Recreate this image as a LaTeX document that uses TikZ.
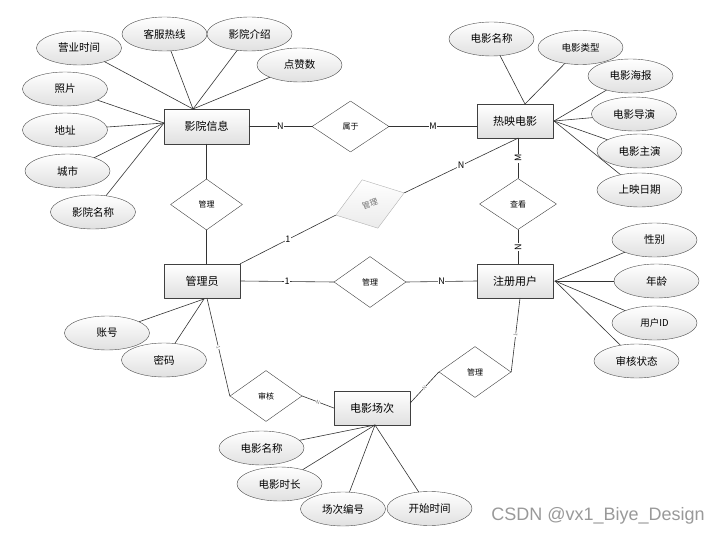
\documentclass[tikz,border=0pt]{standalone}
\usepackage{fontspec}
\setmainfont{Noto Sans CJK SC}
\setsansfont{Liberation Sans}
\usetikzlibrary{shapes.geometric}

\begin{document}
\begin{tikzpicture}[x=1pt, y=-1pt, line join=round, line cap=round,
  ent/.style={draw=black!75, top color=white, bottom color=black!12, minimum width=76pt, minimum height=34pt, inner sep=0pt, font=\fontsize{11}{13}\selectfont},
  attr/.style={ellipse, draw=black!70, top color=white, bottom color=black!12, minimum width=85pt, minimum height=34pt, inner sep=0pt, font=\fontsize{10.5}{12}\selectfont},
  rel/.style={diamond, draw=black!75, fill=white, minimum width=72pt, minimum height=51pt, inner sep=0pt, font=\fontsize{8}{9}\selectfont},
  lnk/.style={draw=black!80, line width=0.6pt},
  card/.style={fill=white, inner sep=0.6pt, font=\fontsize{9}{10}\selectfont},
  smallcard/.style={fill=white, inner sep=0.3pt, sloped, text=black!55, font=\fontsize{5}{5}\selectfont}]
  \useasboundingbox (0,0) rectangle (721,535);

  % entities
  \node[ent, minimum width=85pt, minimum height=35pt] (yy) at (206.5,126.5) {影院信息};
  \node[ent] (rm) at (515,121) {热映电影};
  \node[ent] (gly) at (202,281) {管理员};
  \node[ent] (zc) at (515,281) {注册用户};
  \node[ent] (cc) at (372,408) {电影场次};

  % relations
  \node[rel, minimum width=77pt] (sy) at (350.5,126.5) {属于};
  \node[rel] (gl1) at (206.5,204.5) {管理};
  \node[rel, minimum width=77pt] (ck) at (518,204) {查看};
  \node[rel, rotate=18, draw=black!30, top color=white, bottom color=black!8, text=black!55] (gl2) at (370,204) {管理};
  \node[rel] (gl3) at (370,282) {管理};
  \node[rel] (sh) at (266,396) {审核};
  \node[rel] (gl4) at (475,372) {管理};

  % attributes of 影院信息
  \node[attr] (yyTime) at (79,48) {营业时间};
  \node[attr] (yyHot) at (164.5,34) {客服热线};
  \node[attr] (yyIntro) at (249.5,34) {影院介绍};
  \node[attr] (yyLike) at (299.5,65) {点赞数};
  \node[attr] (yyPhoto) at (65,89) {照片};
  \node[attr] (yyAddr) at (65,130) {地址};
  \node[attr] (yyCity) at (67.5,171) {城市};
  \node[attr] (yyName) at (93,212) {影院名称};
  \coordinate (yyT) at (193,109);
  \coordinate (yyL) at (164,123);
  \foreach \a in {yyTime,yyHot,yyIntro,yyLike} \draw[lnk] (\a) -- (yyT);
  \foreach \a in {yyPhoto,yyAddr,yyCity,yyName} \draw[lnk] (\a) -- (yyL);

  % attributes of 热映电影
  \node[attr] (rmName) at (491.5,39) {电影名称};
  \node[attr, font=\fontsize{9.5}{11}\selectfont] (rmType) at (580.5,47.5) {电影类型};
  \node[attr] (rmPoster) at (630.5,76) {电影海报};
  \node[attr] (rmDir) at (634,114) {电影导演};
  \node[attr] (rmStar) at (639.5,151) {电影主演};
  \node[attr] (rmDate) at (639.5,190) {上映日期};
  \coordinate (rmT) at (525,104);
  \coordinate (rmR) at (554,121);
  \foreach \a in {rmName,rmType} \draw[lnk] (\a) -- (rmT);
  \foreach \a in {rmPoster,rmDir,rmStar,rmDate} \draw[lnk] (\a) -- (rmR);

  % attributes of 注册用户
  \node[attr] (zcSex) at (654.5,240) {性别};
  \node[attr] (zcAge) at (656.5,281) {年龄};
  \node[attr, font=\fontsize{9.5}{11}\selectfont] (zcId) at (654.5,323) {用户ID};
  \node[attr] (zcState) at (636.5,361) {审核状态};
  \coordinate (zcR) at (555,281);
  \foreach \a in {zcSex,zcAge,zcId,zcState} \draw[lnk] (\a) -- (zcR);

  % attributes of 管理员
  \node[attr] (glyAcc) at (107,333) {账号};
  \node[attr] (glyPwd) at (164,360) {密码};
  \coordinate (glyB) at (204,299);
  \foreach \a in {glyAcc,glyPwd} \draw[lnk] (\a) -- (glyB);

  % attributes of 电影场次
  \node[attr] (ccName) at (261.5,448) {电影名称};
  \node[attr] (ccLen) at (279.5,484) {电影时长};
  \node[attr] (ccNo) at (343,509) {场次编号};
  \node[attr] (ccStart) at (429.5,508.5) {开始时间};
  \coordinate (ccB) at (375,425);
  \foreach \a in {ccName,ccLen,ccNo,ccStart} \draw[lnk] (\a) -- (ccB);

  % relation lines
  \draw[lnk] (yy.east) -- node[card] {N} (sy.west);
  \draw[lnk] (sy.east) -- node[card] {M} (sy.east -| rm.west);
  \draw[lnk] (yy.south) -- (gl1.north);
  \draw[lnk] (gl1.south) -- (gl1.south |- gly.north);
  \draw[lnk] (gly.north east) -- node[card] {1} (gl2.west);
  \draw[lnk] (gl2.east) -- node[card] {N} ([xshift=3pt]rm.south);
  \draw[lnk] ([xshift=3pt]rm.south) -- node[card, rotate=90] {M} (ck.north);
  \draw[lnk] (ck.south) -- node[card, rotate=90] {N} ([xshift=3pt]zc.south |- zc.north);
  \draw[lnk] (gly.east) -- node[card] {1} (gl3.west);
  \draw[lnk] (gl3.east) -- node[card] {N} (zc.west);
  \draw[lnk] ([xshift=5pt]gly.south) -- node[smallcard] {1} (sh.west);
  \draw[lnk] (sh.east) -- node[smallcard] {N} (cc.west);
  \draw[lnk] ([yshift=5pt]cc.east) -- node[smallcard] {N} (gl4.west);
  \draw[lnk] (gl4.east) -- node[smallcard] {1} ([xshift=5pt]zc.south);

  % watermark
  \node[text=black!40, font=\sffamily\fontsize{18}{20}\selectfont] (wm) at (598,516) {CSDN @vx1\_Biye\_Design};
\end{tikzpicture}
\end{document}
